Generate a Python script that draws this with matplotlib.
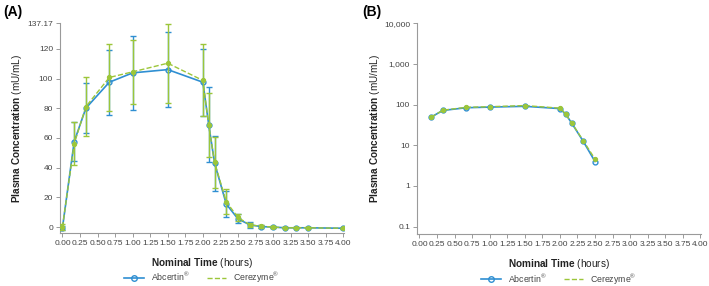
import numpy as np
import matplotlib
matplotlib.use('Agg')
import matplotlib.pyplot as plt
from matplotlib.lines import Line2D
from matplotlib.ticker import FuncFormatter, FixedLocator, NullLocator

plt.rcParams['font.family'] = ['Liberation Sans', 'DejaVu Sans']
plt.rcParams['mathtext.fontset'] = 'custom'
plt.rcParams['mathtext.rm'] = 'Liberation Sans'
plt.rcParams['mathtext.bf'] = 'Liberation Sans:bold'

# --- Panel A: arithmetic mean +/- SD (mU/mL) ---
time_a = [0, 0.167, 0.333, 0.667, 1.0, 1.5, 2.0, 2.083, 2.167, 2.333,
          2.5, 2.667, 2.833, 3.0, 3.167, 3.333, 3.5, 4.0]
abc_mean = [-0.5, 57.5, 80, 97.5, 103.8, 106, 97.5, 69, 43, 15.5,
            5.5, 1.5, 0.3, 0, -0.5, -0.5, -0.5, -0.8]
abc_sd = [1.5, 13, 17, 22, 25, 25.5, 22.5, 25.5, 18.5, 8.5,
          3, 2, 1.2, 0.6, 0.3, 0.3, 0.3, 0.3]
cer_mean = [0, 56, 81, 100.7, 104.5, 110.3, 98.7, 68.5, 43.5, 17,
            6.5, 1.5, 0.5, 0, -0.5, -0.5, -0.5, -0.8]
cer_sd = [2, 14.5, 20, 22.3, 21.7, 26.7, 24.2, 21.5, 17, 8.5,
          2.5, 1.5, 1.0, 0.5, 0.3, 0.3, 0.3, 0.3]
yticks_a = [0, 20, 40, 60, 80, 100, 120, 137.17]

# --- Panel B: semi-log ---
time_b = [0.167, 0.333, 0.667, 1.0, 1.5, 2.0, 2.083, 2.167, 2.333, 2.5]
abc_log = [49.5, 72, 84, 87, 91, 80, 58, 35.5, 12.5, 4.0]
cer_log = [49, 73, 86, 89, 95, 82, 59, 36, 13, 4.6]
yticks_b = [0.1, 1, 10, 100, 1000, 10000]

xticks = np.arange(0, 4.01, 0.25)
BLUE = '#2f8fd2'
GREEN = '#9cc63a'
GREY = '#9a9a9a'
TXT = '#444444'

fig = plt.figure(figsize=(7.09, 2.86), dpi=100)
ax_a = fig.add_axes([60 / 709, 53 / 286, 284 / 709, 209.7 / 286])
ax_b = fig.add_axes([417 / 709, 52 / 286, 284 / 709, 210.7 / 286])


def style(ax):
    for s in ('top', 'right'):
        ax.spines[s].set_visible(False)
    for s in ('left', 'bottom'):
        ax.spines[s].set_color(GREY)
        ax.spines[s].set_linewidth(0.8)
    ax.tick_params(colors=GREY, labelcolor=TXT, labelsize=6.0,
                   length=3, width=0.7, pad=2)
    ax.set_xlim(-0.035, 4.01)
    ax.set_xticks(xticks)
    ax.set_xticklabels([f'{v:.2f}' for v in xticks])
    ax.set_xlabel(r'$\bf{Nominal\ Time}$ (hours)', fontsize=7.2, color='#222222')
    ax.set_ylabel(r'$\bf{Plasma\ Concentration}$ (mU/mL)', fontsize=7.2, color='#222222')
    ax.xaxis.set_label_coords(0.5, -0.11)
    ax.yaxis.set_label_coords(-0.125, 0.5)
    handles = [Line2D([], [], color=BLUE, lw=1.2, marker='o', ms=4, mfc='none', mew=1.0),
               Line2D([], [], color=GREEN, lw=1.0, ls='--')]
    ax.legend(handles, ['Abcertin$^{®}$', 'Cerezyme$^{®}$'], loc='center',
              bbox_to_anchor=(0.5, -0.215), ncol=2, frameon=False, fontsize=6.3,
              handlelength=2.2, columnspacing=2.0, labelcolor=TXT,
              borderpad=0.2)


# Panel A
style(ax_a)
ax_a.errorbar(time_a, abc_mean, yerr=abc_sd, color=BLUE, lw=1.2, capsize=2,
              elinewidth=1.0, capthick=1.0, marker='o', ms=3.5,
              mfc='none', mec=BLUE, mew=1.0, zorder=3)
ax_a.errorbar(time_a, cer_mean, yerr=cer_sd, color=GREEN, lw=1.0, ls='--',
              capsize=2, elinewidth=1.0, capthick=1.0, marker='o', ms=2.8,
              mfc=GREEN, mec=GREEN, zorder=4)
ax_a.set_ylim(-4, 137.17)
ax_a.set_yticks(yticks_a)
ax_a.set_yticklabels(['0', '20', '40', '60', '80', '100', '120', '137.17'])

# Panel B
style(ax_b)
ax_b.set_yscale('log')
ax_b.plot(time_b, abc_log, color=BLUE, lw=1.2, marker='o', ms=3.5,
          mfc='none', mec=BLUE, mew=1.0, zorder=3)
ax_b.plot(time_b, cer_log, color=GREEN, lw=1.0, ls='--', marker='o', ms=2.8,
          mfc=GREEN, mec=GREEN, zorder=4)
ax_b.set_ylim(0.066, 10000)
ax_b.yaxis.set_major_locator(FixedLocator(yticks_b))
ax_b.yaxis.set_minor_locator(NullLocator())
ax_b.yaxis.set_major_formatter(FuncFormatter(lambda v, p: f'{v:,.0f}' if v >= 1 else f'{v:g}'))

fig.text(3 / 709, 1 - 12 / 286, '(A)', fontsize=10, fontweight='bold', va='center')
fig.text(362 / 709, 1 - 12 / 286, '(B)', fontsize=10, fontweight='bold', va='center')

fig.savefig('out.png', dpi=100)
